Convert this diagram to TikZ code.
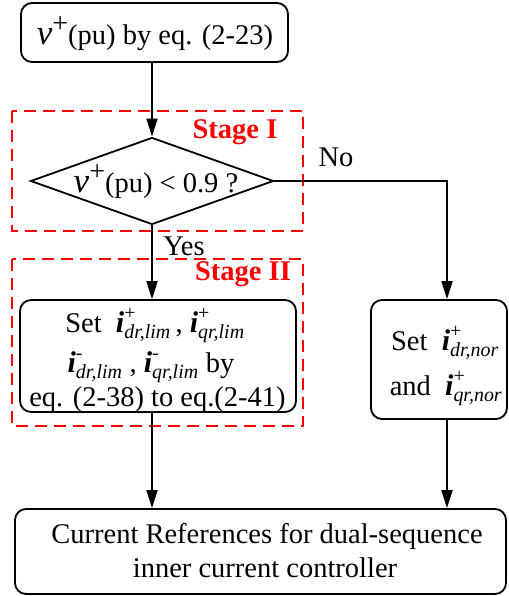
\documentclass[tikz,border=0pt]{standalone}
\usepackage{amsmath}
\usepackage{fontspec}
\setmainfont{Liberation Serif}
\usetikzlibrary{shapes.geometric,arrows.meta}
\newcommand{\curi}[2]{$\text{\fontsize{30}{30}\selectfont\bfseries\itshape i}_{\textit{#1}}^{\textnormal{#2}}$}
\newcommand{\vplus}{{\fontsize{35}{35}\selectfont\itshape v}\raisebox{12pt}{\fontsize{28}{28}\selectfont +}}
\begin{document}
\begin{tikzpicture}[x=1pt,y=-1pt,
  font=\fontsize{28.5}{34}\selectfont,
  box/.style={draw, line width=1.8pt, rounded corners=11pt, inner sep=0pt, align=center},
  stage/.style={draw=red, line width=1.8pt, dash pattern=on 12pt off 7pt},
  stagelbl/.style={text=red, font=\fontsize{28.5}{34}\selectfont\bfseries, inner sep=0pt},
  arr/.style={line width=1.8pt, -{Triangle[length=18pt,width=11pt]}},
  lbl/.style={inner sep=0pt},
  line/.style={inner sep=0pt, anchor=base}]
\useasboundingbox (0,0) rectangle (508,596);
% stage boxes
\draw[stage] (12,111) rectangle (303,231);
\draw[stage] (12,259) rectangle (303,426);
\node[stagelbl] (s1) at (235,132) {Stage I};
\node[stagelbl] (s2) at (243,274) {Stage II};
% nodes
\node[box, minimum width=267, minimum height=59] (top) at (154.5,32.5) {};
\node[line] (toptext) at (155,45) {\vplus(pu) by eq. (2-23)};
\node[draw, diamond, line width=1.8pt, minimum width=243, minimum height=87, inner sep=0pt] (d) at (152,181) {};
\node[line] (dtext) at (156,192) {\vplus(pu) < 0.9 ?};
\node[box, minimum width=276, minimum height=112] (lbox) at (158,356) {};
\node[line] (l1) at (155,332) {Set \ \curi{dr,lim}{+}\,, \curi{qr,lim}{+}};
\node[line] (l2) at (151,372) {\curi{dr,lim}{-} , \curi{qr,lim}{-} by};
\node[line] (l3) at (157.5,406) {eq. (2-38) to eq.(2-41)};
\node[box, minimum width=136, minimum height=119] (rbox) at (439,359.5) {};
\node[line] (r1) at (445,350) {Set \ \curi{dr,nor}{+}};
\node[line] (r2) at (446,395) {and \ \curi{qr,nor}{+}};
\node[box, minimum width=491, minimum height=85] (bot) at (260.5,551.5) {};
\node[line] (b1) at (267,543) {Current References for dual-sequence};
\node[line] (b2) at (265,577) {inner current controller};
\coordinate (nx) at (447,181);
% connectors
\draw[arr] (top.south -| d.north) -- (d.north);
\draw[arr] (d.south) -- (d.south |- lbox.north);
\draw[arr] (d.east) -- (nx) -- (nx |- rbox.north);
\draw[arr] (d.south |- lbox.south) -- (d.south |- bot.north);
\draw[arr] (nx |- rbox.south) -- (nx |- bot.north);
\node[lbl] (no) at (336,157) {No};
\node[lbl] (yes) at (184,246) {Yes};
\end{tikzpicture}
\end{document}
